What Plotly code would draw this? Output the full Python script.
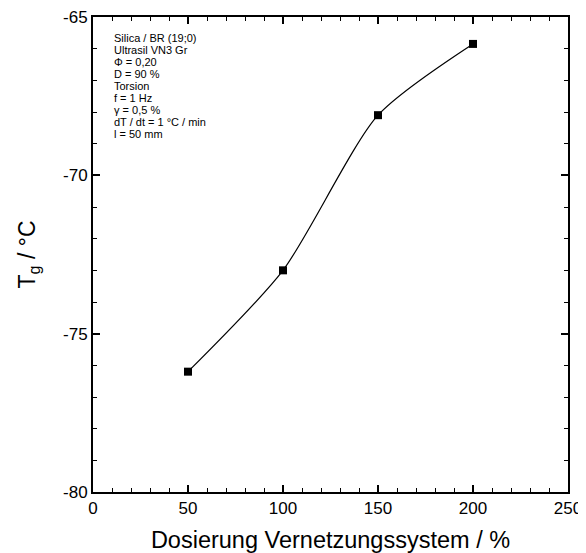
import plotly.graph_objects as go

# Data
dosierung = [50, 100, 150, 200]
tg = [-76.2, -73.0, -68.1, -65.85]

y_ticks = [-80, -75, -70, -65]
y_ticktext = ['-80', '-75', '-70', '-65']
x_ticks = [0, 50, 100, 150, 200, 250]

info_lines = [
    'Silica / BR (19;0)',
    'Ultrasil VN3 Gr',
    'Φ = 0,20',
    'D = 90 %',
    'Torsion',
    'f = 1 Hz',
    'γ = 0,5 %',
    'dT / dt = 1 °C / min',
    'l = 50 mm',
]

font = 'Liberation Sans, Arial, sans-serif'

fig = go.Figure()
fig.add_trace(go.Scatter(
    x=dosierung, y=tg,
    mode='lines+markers',
    line=dict(color='black', width=1.2, shape='spline', smoothing=0.7),
    marker=dict(symbol='square', size=8, color='black'),
    showlegend=False,
))

# info block, one annotation per line to get the tight line spacing
for i, line in enumerate(info_lines):
    fig.add_annotation(
        x=0.04, y=1 - (21 + i * 12) / 475, xref='paper', yref='paper',
        xanchor='left', yanchor='middle', align='left',
        text=line, showarrow=False,
        font=dict(family=font, size=11, color='black'),
    )

# inside ticks on all four sides
axis_common = dict(
    showline=True, linecolor='black', linewidth=2, mirror='ticks',
    ticks='inside', ticklen=7, tickwidth=2, tickcolor='black',
    showgrid=False, zeroline=False, automargin=False,
    ticklabeloverflow='allow',
    tickfont=dict(family=font, size=17, color='black'),
)

fig.update_xaxes(
    range=[0, 250], tickvals=x_ticks,
    minor=dict(dtick=10, ticks='inside', ticklen=4, tickwidth=1, tickcolor='black'),
    title=dict(text='Dosierung Vernetzungssystem / %',
               font=dict(family=font, size=23.5, color='black'), standoff=20),
    **axis_common,
)
fig.update_yaxes(
    range=[-80, -65], tickvals=y_ticks, ticktext=y_ticktext,
    minor=dict(dtick=1, ticks='inside', ticklen=4, tickwidth=1, tickcolor='black'),
    title=dict(text='T<sub>g</sub> / °C',
               font=dict(family=font, size=23, color='black'), standoff=21),
    **axis_common,
)

# page body has an 8px margin, so the figure is drawn a bit smaller
fig.update_layout(
    width=578, height=545, autosize=False,
    margin=dict(l=85, r=18, t=9, b=61),
    paper_bgcolor='white', plot_bgcolor='rgba(0,0,0,0)',
)

fig.write_html('out.html')
